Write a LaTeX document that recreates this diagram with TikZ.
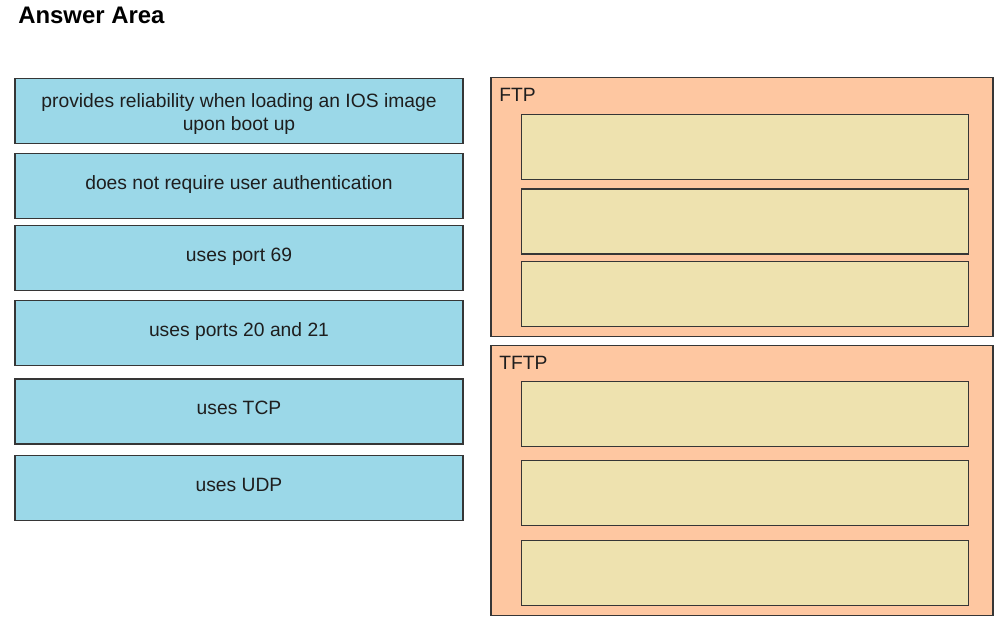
\documentclass[tikz,border=0pt]{standalone}
\usepackage{fontspec}
\setmainfont{Liberation Sans}
\definecolor{choiceblue}{HTML}{9BD8E8}
\definecolor{groupfill}{HTML}{FEC7A1}
\definecolor{slotfill}{HTML}{EEE2AF}
\definecolor{edgegray}{HTML}{363636}
\definecolor{inkgray}{HTML}{1E1E1E}
\begin{document}
\begin{tikzpicture}[x=0.025cm,y=-0.025cm,
	choice/.style={draw=edgegray,line width=0.85pt,fill=choiceblue,minimum width=11.2cm,minimum height=1.625cm,inner sep=0pt,outer sep=0pt,text=inkgray,font=\fontsize{13.7}{16.4}\selectfont,align=center,text height=0.72em,text depth=0.23em},
	group/.style={draw=edgegray,line width=0.85pt,fill=groupfill,minimum width=12.55cm,inner sep=0pt,outer sep=0pt},
	slot/.style={draw=edgegray,line width=0.85pt,fill=slotfill,minimum width=11.17cm,minimum height=1.625cm,inner sep=0pt,outer sep=0pt},
	grouplabel/.style={anchor=base west,inner sep=0pt,text=inkgray,font=\fontsize{13.7}{16.4}\selectfont}]
			\useasboundingbox (0,0) rectangle (1004,632);
			\node[anchor=base west,inner sep=0pt,font=\fontsize{17}{20}\selectfont\bfseries] (title) at (18,23) {Answer Area};

			\node[choice,text height=,text depth=] (reliab) at (239,110.8) {\raisebox{-2.5pt}[\height][\depth]{\begin{tabular}{@{}c@{}}provides reliability when loading an IOS image\\upon boot up\end{tabular}}};
			\node[choice] (noauth) at (239,185.7) {does not require user authentication};
			\node[choice] (port69) at (239,258.2) {uses port 69};
			\node[choice] (port2021) at (239,333.2) {uses ports 20 and 21};
			\node[choice] (tcp) at (239,411.5) {uses TCP};
			\node[choice] (udp) at (239,487.8) {uses UDP};

			\node[group,minimum height=6.475cm] (ftp) at (742,207.3) {};
			\node[grouplabel] (ftplbl) at (499,101.7) {FTP};
			\node[slot] (ftpslotA) at (744.7,146.7) {};
			\node[slot] (ftpslotB) at (744.7,221.5) {};
			\node[slot] (ftpslotC) at (744.7,294.2) {};

			\node[group,minimum height=6.75cm] (tftp) at (742,480.8) {};
			\node[grouplabel] (tftplbl) at (499,369) {TFTP};
			\node[slot] (tftpslotA) at (744.7,414.2) {};
			\node[slot] (tftpslotB) at (744.7,492.8) {};
			\node[slot] (tftpslotC) at (744.7,572.8) {};
			\end{tikzpicture}
\end{document}
